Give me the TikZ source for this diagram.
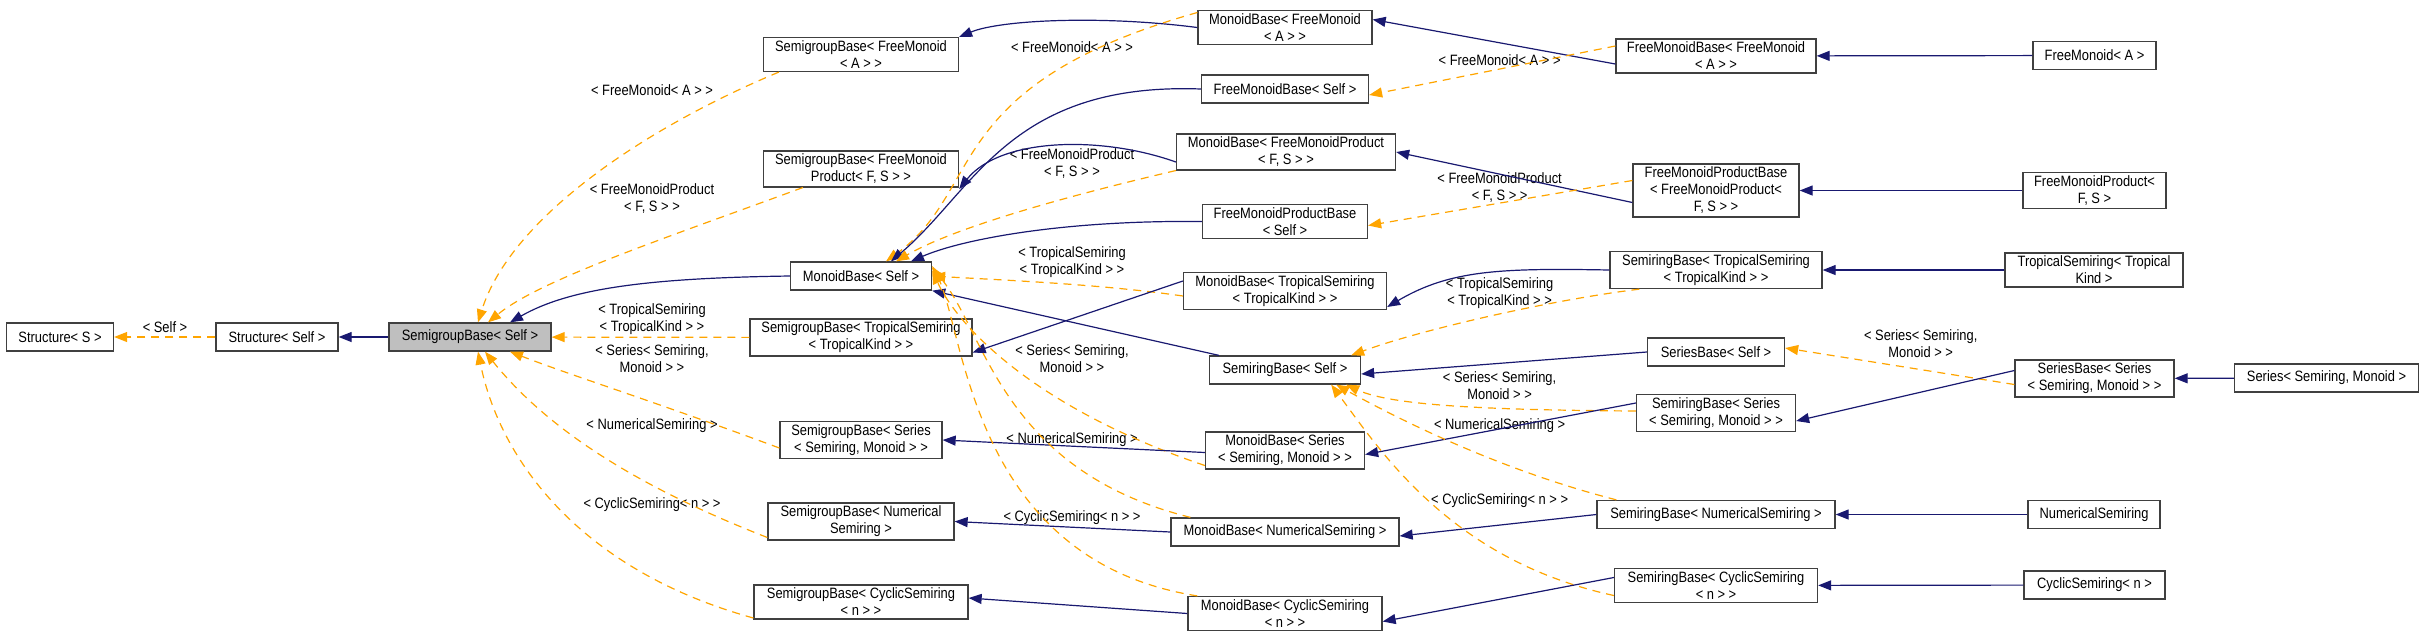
\documentclass[tikz,border=0pt]{standalone}
\usepackage{fontspec}
\setmainfont{Liberation Sans}[FakeStretch=0.86]
\usetikzlibrary{arrows.meta}
\definecolor{inhc}{HTML}{191970}
\definecolor{depc}{HTML}{FFA500}
\definecolor{bord}{HTML}{404040}
\begin{document}
\begin{tikzpicture}[x=1pt,y=-1pt,
 box/.style={draw=bord,line width=1.3pt,fill=white,align=center,font=\fontsize{15}{17}\selectfont,inner xsep=5pt,inner ysep=3pt,minimum height=28pt},
 lab/.style={align=center,font=\fontsize{15}{17}\selectfont,inner sep=0pt},
 inh/.style={draw=inhc,line width=1.2pt,-{Stealth[length=13pt,width=10pt,inset=0pt]}},
 dep/.style={draw=depc,line width=1.2pt,dash pattern=on 8pt off 6pt,-{Stealth[length=13pt,width=10pt,inset=0pt]}}]
\useasboundingbox (0,0) rectangle (2424,641);
% nodes
\node[box,minimum width=107] (sS) at (60,337) {Structure< S >};
\node[box,minimum width=122] (sSelf) at (277,337) {Structure< Self >};
\node[box,minimum width=162,fill={rgb,255:red,191;green,191;blue,191}] (sgS) at (470,337) {SemigroupBase< Self >};
\node[box,minimum width=195] (sgFM) at (861,54.5) {SemigroupBase< FreeMonoid\\< A > >};
\node[box,minimum width=195] (sgFMP) at (861,169) {SemigroupBase< FreeMonoid\\Product< F, S > >};
\node[box,minimum width=141] (mbS) at (861,276) {MonoidBase< Self >};
\node[box,minimum width=222] (sgT) at (861,337.5) {SemigroupBase< TropicalSemiring\\< TropicalKind > >};
\node[box,minimum width=162] (sgSe) at (861,440) {SemigroupBase< Series\\< Semiring, Monoid > >};
\node[box,minimum width=186] (sgN) at (861,521.5) {SemigroupBase< Numerical\\Semiring >};
\node[box,minimum width=214] (sgC) at (861,602) {SemigroupBase< CyclicSemiring\\< n > >};
\node[box,minimum width=174] (mbFM) at (1285,27.5) {MonoidBase< FreeMonoid\\< A > >};
\node[box,minimum width=167] (fmbS) at (1285,89) {FreeMonoidBase< Self >};
\node[box,minimum width=219] (mbFMP) at (1286,152) {MonoidBase< FreeMonoidProduct\\< F, S > >};
\node[box,minimum width=165] (fmpbS) at (1285,221.5) {FreeMonoidProductBase\\< Self >};
\node[box,minimum width=203] (mbT) at (1285,291) {MonoidBase< TropicalSemiring\\< TropicalKind > >};
\node[box,minimum width=151] (srS) at (1285,370) {SemiringBase< Self >};
\node[box,minimum width=159] (mbSe) at (1285,450.5) {MonoidBase< Series\\< Semiring, Monoid > >};
\node[box,minimum width=228] (mbN) at (1285,532) {MonoidBase< NumericalSemiring >};
\node[box,minimum width=194] (mbC) at (1285,613.5) {MonoidBase< CyclicSemiring\\< n > >};
\node[box,minimum width=200] (fmbFM) at (1716,56) {FreeMonoidBase< FreeMonoid\\< A > >};
\node[box,minimum width=166] (fmpbF) at (1716,190.5) {FreeMonoidProductBase\\< FreeMonoidProduct<\\F, S > >};
\node[box,minimum width=212] (srT) at (1716,270) {SemiringBase< TropicalSemiring\\< TropicalKind > >};
\node[box,minimum width=137] (seS) at (1716,352) {SeriesBase< Self >};
\node[box,minimum width=159] (srSe) at (1716,413) {SemiringBase< Series\\< Semiring, Monoid > >};
\node[box,minimum width=238] (srN) at (1716,514.5) {SemiringBase< NumericalSemiring >};
\node[box,minimum width=203] (srC) at (1716,585.5) {SemiringBase< CyclicSemiring\\< n > >};
\node[box,minimum width=123] (lFM) at (2094.5,55.5) {FreeMonoid< A >};
\node[box,minimum width=143] (lFMP) at (2094.5,190.5) {FreeMonoidProduct<\\F, S >};
\node[box,minimum width=178] (lT) at (2094,270) {TropicalSemiring< Tropical\\Kind >};
\node[box,minimum width=159] (seSe) at (2094.5,378.5) {SeriesBase< Series\\< Semiring, Monoid > >};
\node[box,minimum width=132] (lN) at (2094,514.5) {NumericalSemiring};
\node[box,minimum width=141] (lC) at (2094.5,585) {CyclicSemiring< n >};
\node[box,minimum width=184] (lSe) at (2326.5,378) {Series< Semiring, Monoid >};
% labels
\node[lab] (l1) at (165,327) {< Self >};
\node[lab] (l2) at (652,90) {< FreeMonoid< A > >};
\node[lab] (l3) at (652,199) {< FreeMonoidProduct\\< F, S > >};
\node[lab] (l4) at (652,319) {< TropicalSemiring\\< TropicalKind > >};
\node[lab] (l5) at (652,359) {< Series< Semiring,\\Monoid > >};
\node[lab] (l6) at (652,426) {< NumericalSemiring >};
\node[lab] (l7) at (652,505) {< CyclicSemiring< n > >};
\node[lab] (l8) at (1072,47) {< FreeMonoid< A > >};
\node[lab] (l9) at (1072,163.5) {< FreeMonoidProduct\\< F, S > >};
\node[lab] (l10) at (1072,262) {< TropicalSemiring\\< TropicalKind > >};
\node[lab] (l11) at (1072,359) {< Series< Semiring,\\Monoid > >};
\node[lab] (l12) at (1072,439.5) {< NumericalSemiring >};
\node[lab] (l13) at (1072,518) {< CyclicSemiring< n > >};
\node[lab] (l14) at (1499.6,60) {< FreeMonoid< A > >};
\node[lab] (l15) at (1499.6,188) {< FreeMonoidProduct\\< F, S > >};
\node[lab] (l16) at (1499.6,293.5) {< TropicalSemiring\\< TropicalKind > >};
\node[lab] (l17) at (1499.6,385.5) {< Series< Semiring,\\Monoid > >};
\node[lab] (l18) at (1499.6,426) {< NumericalSemiring >};
\node[lab] (l19) at (1499.6,501) {< CyclicSemiring< n > >};
\node[lab] (l20) at (1920.7,343.4) {< Series< Semiring,\\Monoid > >};
% left edges
\draw[dep] (sSelf) -- (sS);
\draw[inh] (sgS) -- (sSelf);
\draw[dep] ([xshift=16]sgFM.south west) .. controls (640,130) and (510,220) .. ([xshift=8]sgS.north);
\draw[dep] ([xshift=40]sgFMP.south west) .. controls (660,240) and (540,280) .. ([xshift=18]sgS.north);
\draw[inh] (mbS.west) .. controls (650,278) and (570,288) .. ([xshift=40]sgS.north);
\draw[dep] (sgT) -- (sgS);
\draw[dep] ([yshift=-8]sgSe.west) .. controls (650,400) and (570,375) .. ([xshift=40]sgS.south);
\draw[dep] ([yshift=-16]sgN.west) .. controls (620,480) and (540,420) .. ([xshift=15]sgS.south);
\draw[dep] ([yshift=-16]sgC.west) .. controls (580,570) and (500,460) .. ([xshift=8]sgS.south);
% middle edges
\draw[inh] (mbFM.west) .. controls (1100,15) and (1000,20) .. (sgFM.north east);
\draw[dep] ([yshift=15]mbFM.west) .. controls (940,85) and (985,190) .. ([xshift=25]mbS.north);
\draw[inh] (fmbS.west) .. controls (1010,82) and (975,190) .. ([xshift=30]mbS.north);
\draw[inh] ([yshift=-10]mbFMP.west) .. controls (1100,135) and (1000,138) .. ([yshift=-20]sgFMP.east);
\draw[dep] (mbFMP.south west) .. controls (1050,200) and (950,230) .. ([xshift=35]mbS.north);
\draw[inh] (fmpbS.west) .. controls (1060,220) and (960,240) .. ([xshift=50]mbS.north);
\draw[dep] ([yshift=-5]mbT.west) .. controls (1100,284) and (1000,280) .. (mbS.east);
\draw[inh] ([yshift=10]mbT.west) -- ([yshift=-15]sgT.east);
\draw[inh] ([xshift=10]srS.north west) -- (mbS.south east);
\draw[dep] ([yshift=-15]mbSe.west) .. controls (1040,410) and (960,330) .. ([yshift=5]mbS.east);
\draw[inh] ([yshift=-2]mbSe.west) -- (sgSe.east);
\draw[dep] ([xshift=20]mbN.north west) .. controls (1000,470) and (985,330) .. ([yshift=8]mbS.east);
\draw[inh] (mbN.west) -- (sgN.east);
\draw[dep] ([xshift=10]mbC.north west) .. controls (970,560) and (965,330) .. ([yshift=10]mbS.east);
\draw[inh] (mbC.west) -- ([yshift=4]sgC.east);
% right edges
\draw[inh] ([yshift=-8]fmbFM.west) -- ([yshift=8]mbFM.east);
\draw[dep] ([yshift=10]fmbFM.west) -- ([yshift=-6]fmbS.east);
\draw[inh] ([yshift=-12]fmpbF.west) -- (mbFMP.east);
\draw[dep] ([yshift=10]fmpbF.west) -- ([yshift=-4]fmpbS.east);
\draw[inh] (srT.west) .. controls (1500,268) and (1450,270) .. ([yshift=-16]mbT.east);
\draw[dep] ([xshift=30]srT.south west) .. controls (1550,300) and (1420,330) .. ([xshift=-10]srS.north east);
\draw[inh] (seS.west) -- ([yshift=-4]srS.east);
\draw[dep] ([yshift=2]srSe.west) .. controls (1480,410) and (1390,405) .. ([xshift=-15]srS.south east);
\draw[inh] ([yshift=10]srSe.west) -- ([yshift=-4]mbSe.east);
\draw[dep] ([xshift=20]srN.north west) .. controls (1500,470) and (1400,420) .. ([xshift=-25]srS.south east);
\draw[inh] (srN.west) -- ([yshift=-4]mbN.east);
\draw[dep] ([yshift=-10]srC.west) .. controls (1450,560) and (1380,450) .. ([xshift=-30]srS.south east);
\draw[inh] ([yshift=8]srC.west) -- ([yshift=-8]mbC.east);
\draw[dep] ([yshift=-6]seSe.west) -- ([yshift=4]seS.east);
\draw[inh] ([yshift=8]seSe.west) -- ([yshift=-8]srSe.east);
\draw[inh] (lFM) -- (fmbFM);
\draw[inh] (lFMP) -- (fmpbF);
\draw[inh] (lT) -- (srT);
\draw[inh] (lSe) -- (seSe);
\draw[inh] (lN) -- (srN);
\draw[inh] (lC) -- (srC);
\end{tikzpicture}
\end{document}
